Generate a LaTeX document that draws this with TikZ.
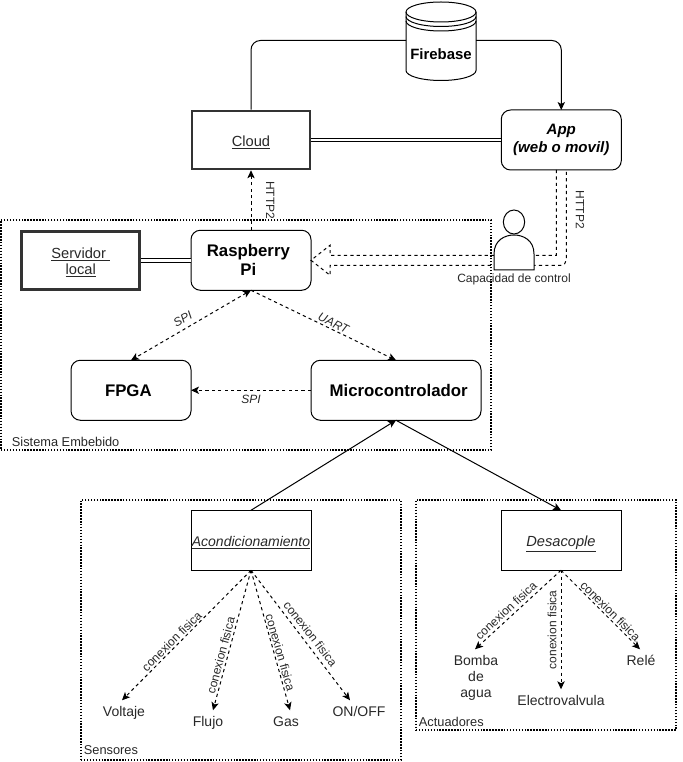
\documentclass[tikz,border=0pt]{standalone}
\usepackage{fontspec}
\setmainfont{Liberation Sans}
\usepackage{xcolor}
\usetikzlibrary{shapes,arrows.meta,positioning,calc}
\definecolor{sketchink}{RGB}{0, 0, 0}
\definecolor{sketchedge}{RGB}{51, 51, 51}
\definecolor{sketchtext}{RGB}{40, 40, 40}
\newcommand{\fs}[2]{\fontsize{#1}{#2}\selectfont}
\newcommand{\lowline}[1]{\raisebox{0pt}[9.5pt][0pt]{\underline{#1}}}
\tikzset{
    softbox/.style={draw=sketchink, line width=0.75pt, rounded corners=7pt, rectangle, fill=white, minimum width=90pt, minimum height=45pt, align=center, inner sep=0pt, outer sep=0pt},
    heavybox/.style={draw=sketchedge, line width=1.9pt, rectangle, minimum width=88.5pt, minimum height=43.5pt, align=center, inner sep=0pt, outer sep=0.95pt, text=sketchtext, font=\fs{11pt}{12pt}},
    plainbox/.style={draw=sketchink, line width=0.75pt, rectangle, minimum width=90pt, minimum height=45pt, align=center, inner sep=0pt, outer sep=0pt, text=sketchtext, font=\fs{10.5pt}{12pt}\itshape},
    groupframe/.style={draw=sketchink, line width=1.6pt, dash pattern=on 1.1pt off 1.1pt, rectangle, anchor=north west, inner sep=0pt, outer sep=0pt},
    grouptext/.style={anchor=south west, inner sep=2pt, text=sketchtext, font=\fs{9.6pt}{11pt}},
    leaftext/.style={align=center, inner xsep=0pt, inner ysep=3pt, text=sketchtext, font=\fs{10.5pt}{12pt}},
    leafline/.style={leaftext, text height=9pt, text depth=2.5pt},
    linktext/.style={anchor=south, inner sep=1pt, text=sketchtext, font=\fs{9pt}{10pt}},
    busline/.style={draw=sketchink, line width=0.7pt, double, double distance=2.2pt},
    flowline/.style={draw=sketchink, line width=0.75pt},
    dashline/.style={draw=sketchink, line width=0.75pt, dash pattern=on 2.4pt off 2.4pt}
}
\begin{document}
\begin{tikzpicture}[x=0.75pt, y=-0.75pt, >={Stealth[length=6pt,width=5.5pt,inset=1.5pt]}]
    \useasboundingbox (0,0) rectangle (682,762);
    % group frames
    \node [groupframe, minimum width=367.5pt, minimum height=172.5pt] (sistema) at (1,220) {};
    \node [groupframe, minimum width=240pt, minimum height=195pt] (sensores) at (81,500) {};
    \node [groupframe, minimum width=195pt, minimum height=172.5pt] (actuadores) at (416,500) {};
    \node [grouptext, xshift=6pt] at (sistema.south west) (sistematext) {Sistema Embebido};
    \node [grouptext, yshift=1.5pt] at (sensores.south west) (sensorestext) {Sensores};
    \node [grouptext] at (actuadores.south west) (actuadorestext) {Actuadores};

    % boxes
    \node [heavybox] (cloud) at (251,140) {\lowline{Cloud}};
    \node [softbox, font=\fs{11.3pt}{13.5pt}\bfseries\itshape, right=142.5pt of cloud] (app) {App\\(web o movil)};
    \node [softbox, font=\fs{12.6pt}{14.4pt}\bfseries, below=45pt of cloud] (raspberry) {Raspberry\hspace*{4pt}\\Pi\hspace*{4pt}};
    \node [heavybox, left=37.5pt of raspberry] (servidor) {\lowline{Servidor\ }\\\lowline{local}};
    \node [softbox, font=\fs{12.6pt}{14.4pt}\bfseries, below=52.5pt of raspberry, xshift=-90pt] (fpga) {FPGA\hspace*{4pt}};
    \node [softbox, font=\fs{12.6pt}{14.4pt}\bfseries, minimum width=127.5pt, right=90pt of fpga] (micro) {\hspace*{4pt}Microcontrolador};
    \node [plainbox, below=67.5pt of micro, xshift=-108.75pt] (acond) {\lowline{Acondicionamiento}};
    \node [plainbox, font=\fs{11pt}{12pt}\itshape, right=142.5pt of acond] (desacople) {\lowline{Desacople}};

    % database
    \node [minimum width=52.5pt, minimum height=59.25pt, inner sep=0pt, outer sep=0pt] (firebase) at (441,40.5) {};
    \begin{scope}[shift={(firebase.center)}]
        \draw [flowline, fill=white] (-35,-28.5) -- (-35,30) arc [start angle=180, end angle=360, x radius=26.25pt, y radius=7.5pt] -- (35,-28.5) arc [start angle=0, end angle=180, x radius=26.25pt, y radius=7.5pt] -- cycle;
        \draw [flowline] (-35,-28.5) arc [start angle=180, end angle=360, x radius=26.25pt, y radius=7.5pt];
        \draw [flowline] (-35,-24) arc [start angle=180, end angle=360, x radius=26.25pt, y radius=7.5pt];
        \draw [flowline] (-35,-19.5) arc [start angle=180, end angle=360, x radius=26.25pt, y radius=7.5pt];
    \end{scope}
    \node [font=\fs{11.2pt}{12pt}\bfseries, inner sep=0pt, yshift=-10.5pt] (firebasetext) at (firebase.center) {Firebase};

    % links
    \draw [flowline, rounded corners=7pt] (cloud.north) |- (firebase.west);
    \draw [flowline, ->, rounded corners=7pt] (firebase.east) -| (app.north);
    \draw [busline] (cloud.east) -- (app.west);
    \draw [busline] (servidor.east) -- (raspberry.west);
    \draw [dashline, ->] (raspberry.north) -- (cloud.south) node[linktext, rotate=-90, pos=0.5, inner sep=11pt] {HTTP2};
    \draw [dashline, <->] (raspberry.south) -- (fpga.north) node[linktext, font=\fs{9pt}{10pt}\itshape, rotate=30, pos=0.53, inner sep=3.5pt] {SPI};
    \draw [dashline, ->] (raspberry.south) -- (micro.north) node[linktext, font=\fs{9pt}{10pt}\itshape, rotate=-26, pos=0.55, inner sep=1pt] {UART};
    \draw [dashline, ->] (micro.west) -- (fpga.east) node[linktext, font=\fs{9pt}{10pt}\itshape, pos=0.5, anchor=north, yshift=-2pt] {SPI};
    \draw [flowline, ->] (acond.north) -- (micro.south);
    \draw [flowline, ->] (micro.south) -- (desacople.north);

    % hollow arrow towards the raspberry
    \draw [dashline] ([xshift=-3.75pt]app.south) |- ([shift={(19,-5)}]raspberry.east) -- ++(0,-10) -- (raspberry.east) -- ++(19,15) -- ++(0,-10) [rounded corners=4pt] -| ([xshift=3.75pt]app.south);
    \node [font=\fs{9pt}{10pt}, rotate=-90, text=sketchtext, inner sep=0pt] (apphttp) at (580,210) {HTTP2};

    % person
    \coordinate (persona) at (514,270);
    \begin{scope}[shift={(persona)}]
        \draw [flowline, fill=white] (-20,0) -- (-20,-16) .. controls (-20,-30) and (-9,-35) .. (0,-35) .. controls (9,-35) and (20,-30) .. (20,-16) -- (20,0) -- cycle;
        \draw [flowline, fill=white] (0,-48) ellipse [x radius=8pt, y radius=9pt];
    \end{scope}
    \node [font=\fs{9pt}{10pt}, text=sketchtext, inner sep=0pt, below=3pt of persona] (personatext) {Capacidad de control};

    % sensors
    \node [leafline, below=97.5pt of acond.south, xshift=-95.25pt] (voltaje) {Voltaje};
    \node [leafline, below=105pt of acond.south, xshift=-32.25pt] (flujo) {Flujo};
    \node [leafline, below=105pt of acond.south, xshift=26.25pt] (gas) {Gas};
    \node [leafline, below=97.5pt of acond.south, xshift=81pt] (onoff) {ON/OFF};
    \draw [dashline, ->] (acond.south) -- ([xshift=-1.5pt]voltaje.north) node[linktext, rotate=45, pos=0.58] {conexion fisica};
    \draw [dashline, ->] (acond.south) -- ([xshift=3.75pt]flujo.north) node[linktext, rotate=75, pos=0.62, inner sep=1.5pt] {conexion fisica};
    \draw [dashline, ->] (acond.south) -- ([xshift=3pt]gas.north) node[linktext, rotate=-74, pos=0.6] {conexion fisica};
    \draw [dashline, ->] (acond.south) -- ([xshift=-6.75pt]onoff.north) node[linktext, rotate=-52, pos=0.53, inner sep=3pt] {conexion fisica};

    % actuators
    \node [leaftext, inner ysep=4pt, below=59.25pt of desacople.south, xshift=-63.75pt] (bomba) {Bomba\\de\\agua};
    \node [leafline, below=89.25pt of desacople.south] (electro) {Electrovalvula};
    \node [leafline, below=59.25pt of desacople.south, xshift=60pt] (rele) {Relé};
    \draw [dashline, ->] (desacople.south) -- ([xshift=-.75pt]bomba.north) node[linktext, rotate=43, pos=0.58, inner sep=2pt] {conexion fisica};
    \draw [dashline, ->] (desacople.south) -- (electro.north) node[linktext, rotate=90, pos=0.5, inner sep=3pt] {conexion fisica};
    \draw [dashline, ->] (desacople.south) -- ([xshift=-.75pt]rele.north) node[linktext, rotate=-45, pos=0.57] {conexion fisica};
\end{tikzpicture}
\end{document}
